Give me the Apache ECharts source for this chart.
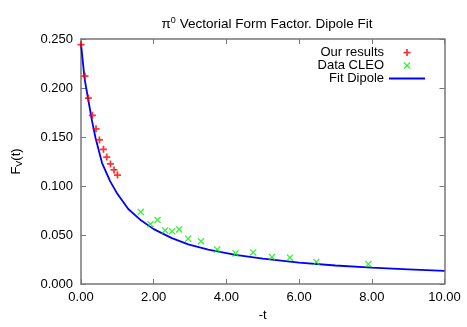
<!DOCTYPE html>
<html>
<head>
<meta charset="utf-8">
<script src="https://cdn.jsdelivr.net/npm/echarts@6/dist/echarts.min.js"></script>
<style>html,body{margin:0;padding:0;background:#fff}#c{width:467px;height:327px}</style>
</head>
<body>
<div id="c"></div>
<script>
// Our results (red +)
const oursT = [0.0, 0.11, 0.204, 0.314, 0.413, 0.507, 0.617, 0.708, 0.810, 0.909, 1.003];
const oursF = [0.2443, 0.2120, 0.1897, 0.1721, 0.1584, 0.1470, 0.1375, 0.1295, 0.1225, 0.1164, 0.1111];
// Data CLEO (green x)
const cleoT = [1.645, 1.912, 2.105, 2.314, 2.507, 2.70, 2.948, 3.30, 3.747, 4.253, 4.738, 5.253, 5.749, 6.474, 7.906];
const cleoF = [0.0735, 0.0610, 0.0654, 0.0547, 0.0537, 0.0557, 0.0463, 0.0436, 0.0352, 0.0312, 0.0322, 0.0275, 0.0268, 0.0225, 0.0204];
// Fit Dipole (blue line)
const fitT = [0, 0.1, 0.2, 0.3, 0.4, 0.58, 0.8, 1.0, 1.3, 1.65, 2.0, 2.5, 2.95, 3.5, 4.25, 5.0, 6.0, 7.0, 8.0, 9.0, 10.0];
const fitF = [0.245, 0.209, 0.188, 0.167, 0.149, 0.1234, 0.105, 0.092, 0.0765, 0.065, 0.056, 0.0468, 0.0405, 0.035, 0.0298, 0.0258, 0.0218, 0.0189, 0.0167, 0.015, 0.0134];
// Ticks
const xTicks = {min: 0, max: 10, interval: 2};
const yTicks = {min: 0, max: 0.25, interval: 0.05};

const zip = (a, b) => a.map((v, i) => [v, b[i]]);
const FONT = "'Liberation Sans', Arial, sans-serif";
const frame = '#777';
const plus = 'path://M3,0H5V3H8V5H5V8H3V5H0V3H3Z';
const cross = 'path://M0,1L1,0L4,3L7,0L8,1L5,4L8,7L7,8L4,5L1,8L0,7L3,4Z';
const lineIcon = 'path://M0,0H36V1.8H0Z';

const axisCommon = (extra) => Object.assign({
  axisLine: {show: true, onZero: false, lineStyle: {color: frame, width: 1.5}},
  axisTick: {show: true, inside: true, length: 5, lineStyle: {color: frame, width: 1}},
  splitLine: {show: false},
}, extra);

const chart = echarts.init(document.getElementById('c'), null, {renderer: 'canvas'});
chart.setOption({
  animation: false,
  textStyle: {fontFamily: FONT},
  title: {
    text: '{a|\u03c0}{s|0}{a| Vectorial Form Factor. Dipole Fit}',
    left: 262, top: 11, textAlign: 'center',
    textStyle: {
      fontWeight: 'normal',
      rich: {
        a: {fontFamily: FONT, fontSize: 13.5, fontWeight: 'normal', color: '#000', verticalAlign: 'bottom', lineHeight: 15},
        s: {fontFamily: FONT, fontSize: 9, fontWeight: 'normal', color: '#000', verticalAlign: 'top', padding: [0, 0, 7, 0], lineHeight: 15}
      }
    }
  },
  legend: {
    orient: 'vertical', align: 'right', right: 37, top: 41,
    itemWidth: 36, itemHeight: 7, itemGap: 0,
    textStyle: {fontFamily: FONT, fontSize: 13, color: '#000', lineHeight: 11.8},
    data: [
      {name: 'Our results', icon: plus},
      {name: 'Data CLEO', icon: cross},
      {name: 'Fit Dipole', icon: lineIcon}
    ]
  },
  grid: {left: 81, right: 22.5, top: 39, bottom: 39.5, containLabel: false},
  xAxis: [
    axisCommon(Object.assign({type: 'value', position: 'bottom',
      name: '-t', nameLocation: 'middle', nameGap: 25,
      nameTextStyle: {fontFamily: FONT, fontSize: 13, color: '#000'},
      axisLabel: {margin: 7, color: '#000', fontFamily: FONT, fontSize: 13, formatter: v => v.toFixed(2)}}, xTicks)),
    axisCommon(Object.assign({type: 'value', position: 'top', axisLabel: {show: false}}, xTicks))
  ],
  yAxis: [
    axisCommon(Object.assign({type: 'value', position: 'left',
      name: '{a|F}{s|V}{a|(t)}', nameLocation: 'middle', nameGap: 57, nameRotate: 90,
      nameTextStyle: {rich: {
        a: {fontFamily: FONT, fontSize: 13, color: '#000', lineHeight: 15},
        s: {fontFamily: FONT, fontSize: 9, color: '#000', verticalAlign: 'bottom', padding: [6, 0, 0, 0], lineHeight: 15}
      }},
      axisLabel: {margin: 8, color: '#000', fontFamily: FONT, fontSize: 13, formatter: v => v.toFixed(3)}}, yTicks)),
    axisCommon(Object.assign({type: 'value', position: 'right', axisLabel: {show: false}}, yTicks))
  ],
  series: [
    {name: 'Our results', type: 'scatter', data: zip(oursT, oursF), symbol: plus, symbolSize: 7,
     itemStyle: {color: '#ff0000'}, z: 4},
    {name: 'Data CLEO', type: 'scatter', data: zip(cleoT, cleoF), symbol: cross, symbolSize: 7,
     itemStyle: {color: '#00ee00'}, z: 4},
    {name: 'Fit Dipole', type: 'line', data: zip(fitT, fitF), showSymbol: false, symbol: 'none',
     lineStyle: {color: '#0000ff', width: 1.8}, itemStyle: {color: '#0000ff'}, z: 3}
  ]
});
</script>
</body>
</html>
